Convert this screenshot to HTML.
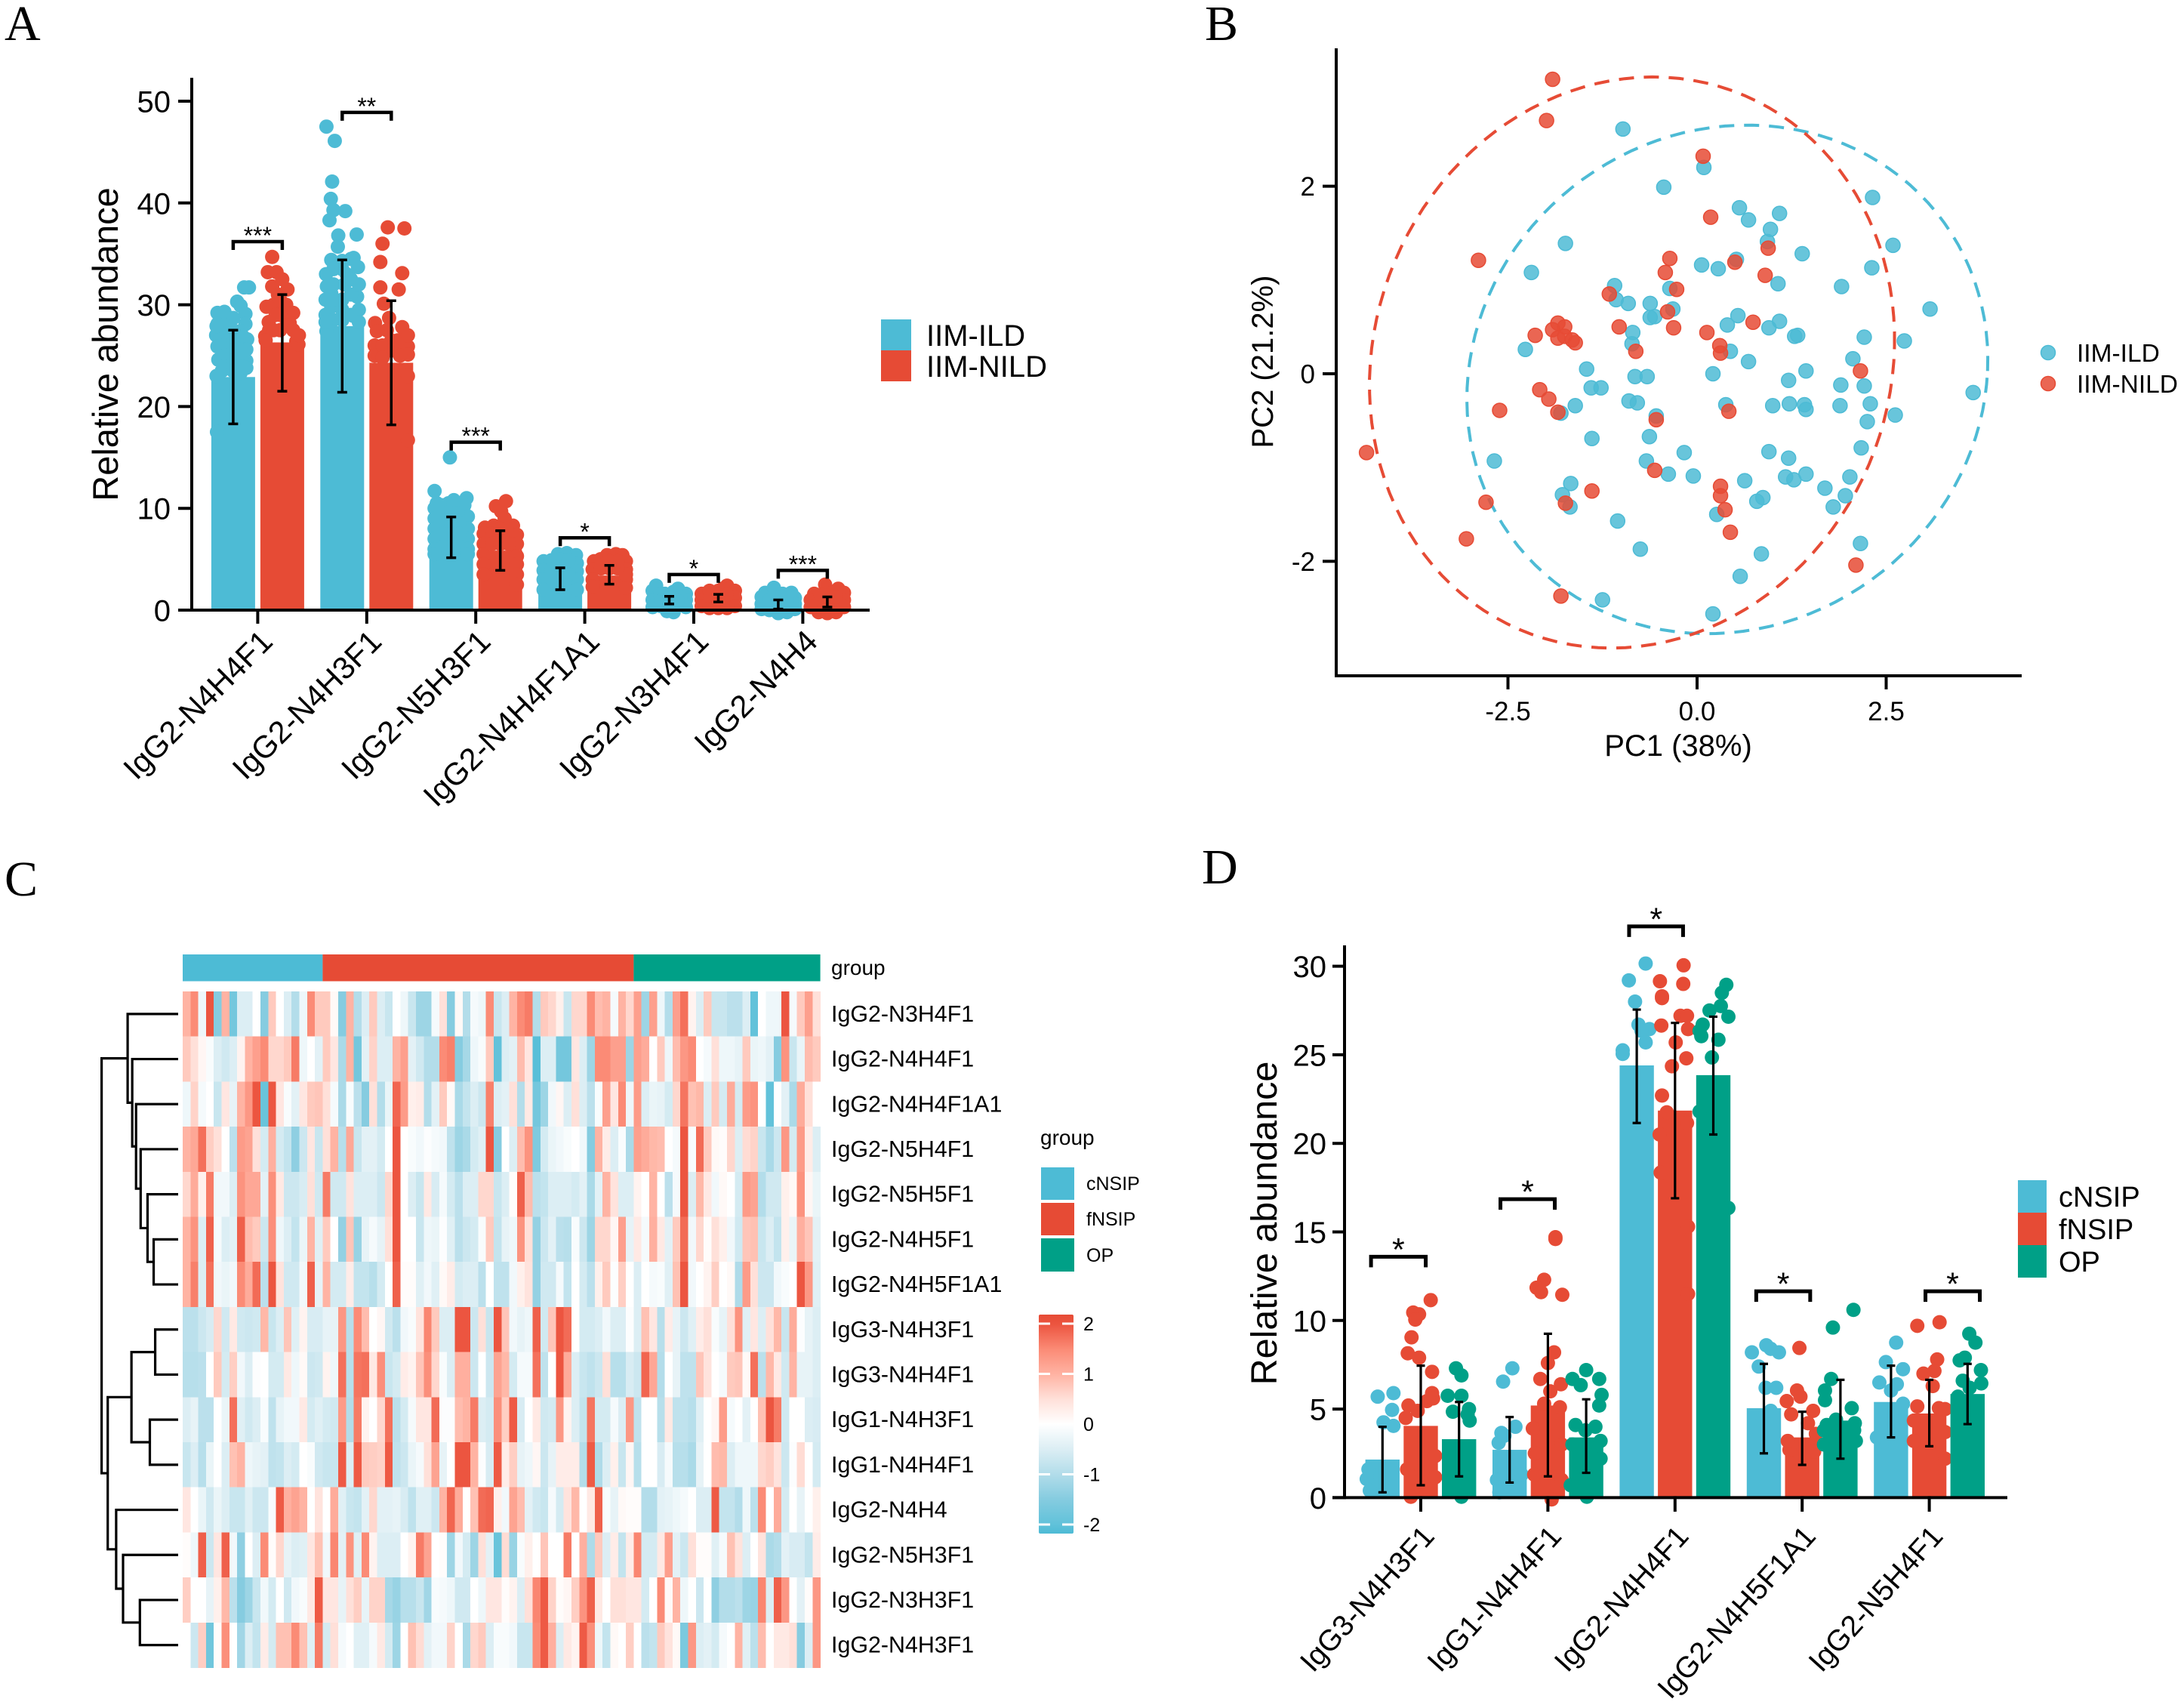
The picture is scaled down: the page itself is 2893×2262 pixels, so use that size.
<!DOCTYPE html>
<html lang="en">
<head>
<meta charset="utf-8">
<title>IgG glycan abundance figure</title>
<style>
html,body{margin:0;padding:0;background:#fff;}
svg{display:block;font-family:"Liberation Sans",sans-serif;}
</style>
</head>
<body>
<svg id="fig" xmlns="http://www.w3.org/2000/svg" width="2893" height="2262" viewBox="0 0 2893 2262">
  <rect x="0" y="0" width="2893" height="2262" fill="#fff"/>
  <text x="6" y="53" font-family="Liberation Serif" font-size="66">A</text>
  <text x="1596" y="53" font-family="Liberation Serif" font-size="66">B</text>
  <text x="6" y="1186" font-family="Liberation Serif" font-size="66">C</text>
  <text x="1592" y="1170" font-family="Liberation Serif" font-size="66">D</text>

  <g id="panelA"></g>
  <g>
    <rect x="1167" y="423" width="40" height="41" fill="#4DBBD5"/>
    <rect x="1167" y="464" width="40" height="41" fill="#E64B35"/>
    <text x="1227" y="458" font-size="40">IIM-ILD</text>
    <text x="1227" y="499" font-size="40">IIM-NILD</text>
  </g>

  <g id="panelB"></g>
  <g>
    <circle cx="2713" cy="467" r="9.5" fill="#4DBBD5" fill-opacity="0.85" stroke="#4DBBD5" stroke-width="1.5"/>
    <circle cx="2713" cy="508" r="9.5" fill="#E64B35" fill-opacity="0.85" stroke="#E64B35" stroke-width="1.5"/>
    <text x="2751" y="479" font-size="33.5">IIM-ILD</text>
    <text x="2751" y="520" font-size="33.5">IIM-NILD</text>
  </g>

  <g id="panelC"></g>
  <g>
    <text x="1378" y="1516" font-size="28">group</text>
    <rect x="1379" y="1546" width="44" height="43" fill="#4DBBD5"/>
    <rect x="1379" y="1593" width="44" height="43" fill="#E64B35"/>
    <rect x="1379" y="1640" width="44" height="44" fill="#00A087"/>
    <text x="1439" y="1576" font-size="25">cNSIP</text>
    <text x="1439" y="1623" font-size="25">fNSIP</text>
    <text x="1439" y="1671" font-size="25">OP</text>
  </g>

  <g id="panelD"></g>
  <g>
    <rect x="2673" y="1563" width="38" height="43" fill="#4DBBD5"/>
    <rect x="2673" y="1606" width="38" height="43" fill="#E64B35"/>
    <rect x="2673" y="1649" width="38" height="43" fill="#00A087"/>
    <text x="2727" y="1598" font-size="38">cNSIP</text>
    <text x="2727" y="1641" font-size="38">fNSIP</text>
    <text x="2727" y="1684" font-size="38">OP</text>
  </g>
</svg>
<script>
const BLUE = '#4DBBD5', RED = '#E64B35', GREEN = '#00A087';

/* ---------- Panel A data ---------- */
const aCategories = ['IgG2-N4H4F1','IgG2-N4H3F1','IgG2-N5H3F1','IgG2-N4H4F1A1','IgG2-N3H4F1','IgG2-N4H4'];
const aTicks = [0,10,20,30,40,50];
const aMeansILD = [22.9,27.9,7.15,3.1,0.95,0.6];
const aMeansNILD = [26.3,24.3,5.85,3.4,1.15,0.85];
const aErrLowILD = [18.3,21.4,5.15,2.0,0.6,0.1];
const aErrHighILD = [27.5,34.4,9.15,4.15,1.35,1.0];
const aErrLowNILD = [21.5,18.2,3.9,2.55,0.8,0.3];
const aErrHighNILD = [31.0,30.4,7.8,4.4,1.55,1.3];
const aBracketLevels = [36.2,48.9,16.5,7.1,3.5,3.9];
const aStars = ['***','**','***','*','*','***'];
/* each point: [jitter in bar widths, abundance] */
const aPointsILD = [
 [[.25,31.7],[.36,31.7],[.09,30.3],[.17,29.9],[-.36,29.2],[-.2,29.3],[.28,29.1],[-.36,28.1],[0,28.7],[.28,28.1],[-.39,27],[.17,27.4],[.32,26.6],[-.36,25.9],[.17,26],[-.34,24.6],[.09,25.1],[-.26,23.5],[.17,23.3],[-.37,17.5],[-.1,27.8],[.3,24.5],[-.2,28],[-.2,27],[-.2,26],[-.2,25],[-.2,24],[0,27.5],[0,26.5],[0,25.5],[0,24.5],[0,23.5],[.2,27],[.2,25],[.2,24],[.3,25.6],[.3,23.8],[-.38,23],[-.38,27.9]],
 [[-.36,47.5],[-.17,46.1],[-.23,42.1],[-.26,40.4],[.07,39.2],[-.2,39.3],[-.29,38.3],[-.09,36.8],[.33,36.9],[-.1,35.7],[.26,34.6],[-.25,34.4],[.36,33.7],[-.37,33],[.1,33],[-.35,31.8],[.34,30.8],[-.25,31.1],[-.25,29.8],[.26,28.9],[-.36,27.4],[0,29.5],[.05,32],[-.38,29],[-.38,30.5],[-.2,28.5],[-.2,30.5],[-.2,32],[-.2,33.5],[0,28.5],[0,30.5],[0,33.5],[.2,29],[.2,31],[.2,32.5],[.38,29.5],[.38,32],[-.38,28.3],[.38,28.3],[.2,34.5],[0,34.3]],
 [[-.03,15],[-.38,11.7],[.35,11],[-.06,10.5],[-.33,10.5],[.06,10.8],[.3,9.2],[-.38,10],[-.2,10.3],[.05,10.4],[.3,10.3],[.38,9.2],[-.38,9],[-.15,9.2],[.15,9.5],[-.38,8],[-.1,8],[.38,8],[-.38,7],[.38,7],[-.38,6],[.38,6],[-.38,5.5],[.38,5.5],[-.19,9.5],[0,9.5],[.19,8.5],[-.19,8.5],[0,8.5],[-.19,7.5],[0,7.5],[.19,7.5]],
 [[-.38,4.8],[-.2,4.9],[-.05,5.5],[.15,5.6],[.36,5.4],[.38,4.6],[-.38,3.9],[.38,3.8],[-.38,3],[.38,3],[-.38,2],[.38,2],[0,5],[-.19,4],[0,4],[.19,4],[.19,4.9],[-.19,3.5],[0,3.5],[.19,3.5]],
 [[-.38,1.9],[-.3,2.4],[-.1,1.6],[.1,1.8],[.2,2.1],[.38,1.6],[-.38,1],[.38,1],[-.38,.3],[.38,.3],[0,.1],[.1,-.2],[-.2,.4],[-.05,-.1],[-.2,1.5],[.25,1.2],[0,1.3],[.19,.9],[-.19,.9]],
 [[-.38,1.3],[-.3,1.7],[-.1,2.2],[.1,1.6],[.3,1.7],[.38,1.2],[-.38,.6],[.38,.6],[-.38,.1],[.38,.1],[0,-.3],[-.2,0],[.2,-.2],[-.2,1],[.1,.9],[0,1.2],[.19,1.1]]
];
const aPointsNILD = [
 [[-.23,34.7],[-.33,33.2],[-.13,33.2],[-.23,31.8],[.12,31.5],[-.36,29.8],[.09,30],[.25,29.2],[-.31,28.3],[.17,28.2],[-.39,26.9],[.32,26.4],[-.2,30],[.37,26.1],[-.05,29],[-.3,27.5],[-.2,27.5],[-.05,27.5],[.1,28],[.25,27.5],[.38,27],[-.38,26.5],[-.1,31],[0,32.5],[-.05,30.5],[-.15,29]],
 [[-.08,37.6],[.3,37.5],[-.2,36],[-.25,34.2],[.25,33.1],[-.25,31.7],[.17,31.5],[-.17,30.1],[-.05,28.7],[-.37,28.2],[.25,27.8],[-.33,27.4],[.38,25.9],[-.3,25.3],[.27,26.1],[.38,25.1],[.38,16.7],[-.38,26],[0,26.5],[.38,23],[-.38,25],[-.2,26],[0,25.5],[.2,25],[-.1,27.5],[.15,26.5],[.38,27],[-.2,24.8]],
 [[-.1,10.2],[.13,10.7],[.02,9.7],[.29,8.3],[-.35,8.1],[-.15,8.3],[.1,9],[.17,7],[.33,6],[-.38,7.5],[-.38,6.5],[-.38,5.5],[.38,7.4],[.38,6.5],[.38,5.3],[-.38,4.5],[.38,4.5],[-.38,3.5],[.38,3.5],[.38,2.5],[-.19,7.5],[0,8],[.15,8],[-.19,6.5],[0,6.5],[.19,6.5],[0,7.3]],
 [[-.2,5],[-.05,5.4],[.15,5.5],[.3,5.4],[.38,4.8],[-.35,4.8],[-.38,4],[.38,4],[-.38,3],[.38,3],[-.38,2.3],[.38,2.2],[0,5.3],[.38,3.5],[-.19,4.1],[0,4.1],[.19,4.1],[0,4.8],[.19,4.8]],
 [[-.38,1.6],[-.2,1.9],[0,1.9],[.2,2.4],[.38,1.9],[.38,1.2],[-.38,1],[-.38,.4],[.38,.4],[0,.2],[.2,.2],[-.2,.2],[.1,2.1],[0,1.5],[.19,1.5],[-.19,1.4]],
 [[-.05,2.5],[-.3,1.6],[.1,1.7],[.25,2.1],[.38,1.7],[-.38,1],[.38,1],[-.38,.3],[.38,.3],[0,-.3],[.2,-.2],[-.2,-.2],[.2,1.3],[-.15,1],[0,1.4],[-.15,1.5]]
];

/* ---------- Panel B data ---------- */
const bTicksX = [-2.5,0,2.5];
const bTicksY = [-2,0,2];
const bPointsILD = [[-.98,2.61],[.09,2.2],[-.44,1.99],[2.32,1.88],[.56,1.77],[1.09,1.71],[.68,1.64],[.97,1.54],[.93,1.41],[-1.74,1.39],[1.39,1.28],[2.59,1.37],[.52,1.22],[.06,1.16],[.28,1.12],[2.31,1.13],[-2.19,1.08],[-1.09,.94],[1.07,.96],[1.91,.93],[-.36,.91],[-1.07,.79],[-.91,.75],[-.62,.75],[-.32,.69],[3.08,.69],[-.62,.6],[-.56,.61],[.54,.62],[1.09,.56],[.4,.52],[.95,.49],[-.85,.44],[1.29,.4],[1.33,.41],[2.21,.39],[2.74,.35],[-.86,.32],[-2.27,.26],[.44,.24],[2.06,.16],[.68,.13],[1.44,.03],[-1.46,.05],[.21,0],[-.82,-.03],[-.66,-.03],[1.21,-.07],[-1.27,-.15],[-1.4,-.15],[1.9,-.12],[2.21,-.13],[-.9,-.29],[-.79,-.31],[-1.61,-.34],[2.29,-.32],[1.22,-.32],[1.42,-.33],[.38,-.33],[1,-.34],[1.89,-.34],[1.44,-.38],[-1.8,-.42],[2.62,-.44],[-.54,-.45],[2.25,-.51],[-.63,-.67],[-1.39,-.69],[2.17,-.79],[-.17,-.84],[.95,-.83],[1.21,-.9],[-2.68,-.93],[-.67,-.93],[-.38,-1.07],[-.05,-1.09],[1.44,-1.07],[1.17,-1.1],[1.28,-1.13],[.63,-1.14],[2.02,-1.1],[-1.67,-1.17],[1.69,-1.22],[-1.78,-1.29],[1.96,-1.3],[.87,-1.32],[.79,-1.36],[-1.68,-1.42],[1.8,-1.42],[.26,-1.5],[-1.05,-1.57],[-.75,-1.87],[2.16,-1.81],[.85,-1.92],[.57,-2.16],[-1.25,-2.41],[.21,-2.56],[3.65,-.2]];
const bPointsNILD = [[-1.91,3.14],[-1.99,2.7],[.08,2.32],[.18,1.67],[.94,1.34],[-2.89,1.21],[-.36,1.23],[.5,1.19],[-.42,1.08],[.9,1.05],[-.27,.9],[-1.16,.85],[-.39,.66],[.74,.55],[-1.84,.54],[-1.75,.5],[-1.91,.47],[-2.14,.41],[-1.03,.5],[-.31,.49],[.13,.44],[-1.84,.38],[-1.75,.4],[-1.65,.36],[-1.61,.33],[.3,.3],[-.81,.24],[.31,.22],[2.16,.03],[-2.08,-.17],[-1.96,-.27],[-2.61,-.39],[-1.84,-.41],[.42,-.4],[-.54,-.49],[-4.37,-.84],[-.56,-1.03],[.31,-1.2],[.31,-1.3],[-1.39,-1.25],[-2.79,-1.37],[-1.74,-1.38],[.37,-1.45],[.44,-1.69],[-3.05,-1.76],[2.1,-2.04],[-1.8,-2.37]];
/* ellipse: centre x, centre y, radius x, radius y, skew of top in x, skew of right in y */
const bEllipseILD = [.4,-.06,3.44,2.71,.15,.09];
const bEllipseNILD = [-.86,.12,3.47,3.04,.085,.17];

/* ---------- Panel C data ---------- */
const cRowLabels = ['IgG2-N3H4F1','IgG2-N4H4F1','IgG2-N4H4F1A1','IgG2-N5H4F1','IgG2-N5H5F1','IgG2-N4H5F1','IgG2-N4H5F1A1','IgG3-N4H3F1','IgG3-N4H4F1','IgG1-N4H3F1','IgG1-N4H4F1','IgG2-N4H4','IgG2-N5H3F1','IgG2-N3H3F1','IgG2-N4H3F1'];
const cGroupCounts = [18,40,24];
const cLegendTicks = [2,1,0,-1,-2];
/* heat values in half-z steps: 4 = z of 2 */
const cHeatRows = [
[2,3,-.5,4,-3,2,-3.5,-1,-1,0,-3,1.5,0,-1,-2,-.5,3,1.5,1.5,.2,-3,2,-2,-1,1.5,-1,-1.5,0,-.5,-1.5,-2.5,-2.5,-.3,1,-3,.2,-2,-.3,-.5,3,-1.5,-1,2,3,3.3,-2,1.5,1.2,.5,-1.5,1.2,1.2,3,1.8,2,-.3,2,1.2,2.5,-2.5,2.5,-.5,-2,2.5,3.5,.4,-1,1.5,-1.5,-1.5,-1.8,-1.8,-1,-4,0,-.5,-.5,4,-.3,1.5,2.5,1],
[1.5,1,.3,-.2,-1,-1.3,-1,.4,2,2.5,3,1.2,1.2,1.5,3.3,-.5,0,-.8,1.5,.8,-2.2,2,-3.5,-.8,1.3,-1,-1,2,2.5,-.8,-1.3,-2,-2,3,3.2,-3,-2.3,-.5,-.2,1.5,-4,-1,-.8,1.8,.8,-4.2,-1,-1,-3.5,-3.5,.8,-1,-2.5,3,3,2.5,2.5,-2.5,2.5,2.2,0,1.5,-.5,1.8,2.7,3,0,-.3,1,-.5,-.5,-.7,1.5,-.6,-.5,-.8,-3,2.8,-1.5,-.6,1.8,1.5],
[-.5,1.3,-.3,0,-1.5,.8,-.7,2,2.7,4,-3.8,4,.8,-.2,-.8,.8,1.5,1.6,1,-.3,-2.2,-.2,-1.8,-3,1,-2,-.6,3.7,2.6,.5,.6,-2,-.8,1.5,.2,-2.2,-1.6,-1,-1.4,3.2,-1,-.8,1,-2,.7,-3.5,-2.5,-.4,.3,-1,1,-1,-1.8,-.2,2.5,.8,3,-.5,2.6,-1,-.6,-.7,-1.2,1.2,3.4,1.7,1.9,-1,1.5,-1.2,2.2,-1.2,2.6,2.8,0,-4,0,-.8,-2.2,2.2,1,0],
[2,2.3,3.5,1.4,1,0,-1.8,2.6,2.4,1,-1.2,2.1,-1.2,-1.6,-2.8,-1.4,.8,-1.5,1,2,-1.9,2.3,-1.5,-.8,-.8,-1.2,0,4,0,-.2,-.4,-.1,-.3,-.4,-1.7,-2.5,-2.2,-1.2,-.9,4,-3,0,-1,1.8,2.8,-3.2,-1.2,-.6,-.4,-.2,0,-.4,-3,2,.6,-1,-.2,-2.2,2.5,2.2,1.9,1.8,0,-.3,4,-.2,3.6,1.5,.2,.1,1.2,-1,1.1,1.3,-1.5,-2.2,-1.4,2.7,-1.2,2.6,.6,-1],
[1.2,2.2,.5,3.3,-.4,-.4,-1,2.8,2.3,2.3,-.8,2.9,.7,-1.4,-1.4,-1.1,1,-1.3,3.3,-1.3,-1.3,.9,-1,-1,-1,-1.4,1.2,4,0,-1,-1.5,.7,-1.1,-.3,-1.2,-1.8,-1,-1,1.2,1.2,-1.5,-1,.1,3.8,1.8,-1.8,-1.6,-1,-1,-1,-1.2,-.8,-2.2,-.8,2,.9,-1,-1,.4,0,2,0,-1.8,-.3,4,-1,1.9,.7,-.4,.2,0,-1.2,2.6,2.4,-2,-1.3,-1.3,.5,.2,2.8,.3,-.6],
[2,2.8,-1,3.8,-.3,-1,-.8,3.8,1.8,1.5,-1.4,2.9,-.5,-1,-1.6,-.6,2,-.9,1.5,0,-2.7,1.6,-2.6,-.7,-.3,-.7,1,4,0,0,-1.5,-.5,-.6,-.1,-.9,-1.8,-1.4,-1.2,-.2,1.5,-1.6,-.7,-.5,2.8,1,-2.7,-1.4,-.8,-1.8,-1.9,-.2,-1.4,-2.5,1.2,1.2,.3,2.5,-.7,.7,-.3,2.1,.7,-.8,1.5,3.6,-.4,1.2,.1,1,.5,-.4,-1.3,1.6,1.7,-1.5,-1,-1.6,.5,-.6,2.1,1.6,-.8],
[2,3.2,-1,3.5,-.4,-.6,-.4,3,2.2,3.6,-1.8,4,.9,-1.3,-1.3,-.4,3.8,-.7,2,-1.2,-1.2,.6,-1.6,-1.6,-1.9,-1.2,0,3.8,.1,.1,-.9,-.4,-.9,.2,.6,-1.2,-1,-1,-1.8,0,-1.7,-1.7,-.4,.5,.9,-2.7,-1.3,-1.3,-.3,-1.6,0,-1.2,-1.8,.5,1.5,-.1,1.4,0,-1,0,-.3,-.2,-.9,1.7,4,-.4,0,.4,1.4,0,.2,-2.1,2.6,1,-1.4,-1.4,-.4,-.2,0,4,2.7,-.9],
[-1.8,-1.8,-1.4,-1.1,1.2,-1.3,.7,-1.3,-1.4,-1.3,1.9,-1.5,-1,1.6,-.9,.4,-1.1,-1.1,-.7,-.7,2.7,-1.9,3,1.8,0,.3,-1.3,-1.8,-.4,-.2,.9,3.1,1.5,-1,-1,4,4,-1.4,1,-1.5,4,1.6,-.4,-.7,-.5,3.8,-1.3,1.6,4,3.6,0,-1.2,-1.2,-1,-.4,-1,-1,-.1,-1,1.7,.8,-1.9,.6,-.7,-1.4,-.9,.6,1,-.2,-.7,1,2.8,-.9,.8,-1,1,1.9,-1.5,2.2,-.1,-.7,-1],
[-1.9,-1.9,-1.8,0,1.5,-1.2,1.4,-.4,-1,-.1,0,-1.2,-1.2,.7,-.5,.2,-1.4,-1.3,.4,-.5,3.5,-1.9,3.4,3.5,.7,2.9,-1.5,-1.2,.6,.4,1.6,2.9,1.2,-.2,-1,2.1,2.1,-1.4,0,-1.4,2.4,1.9,-1.2,-.3,-.3,3.5,-1.7,0,4,2.2,-1,-1.5,-1.7,-1.4,1,-1.9,-1.9,-1.1,-1.4,3.7,2.3,-2,0,-.7,-1.7,-1.7,1.6,.9,0,-.3,1.5,1.6,.2,3.5,-1.8,1.9,.7,-1.3,2,-.7,-.7,-1],
[-1,-.7,-1.8,-1.8,0,-.6,3.5,-.9,-1.3,-1,-.2,-1.7,-.7,-.4,-.4,.7,-1.2,-.9,-1.2,-1.3,2.6,-2,3.3,.4,0,1.2,3.5,-1.8,-1.2,-.3,.8,.8,3.6,-.1,-.1,1.8,2,3.3,-1,-1.2,2.9,1.4,3.9,-1.1,0,.7,-1.3,-1.2,2.7,.4,-1,-1.6,3.4,-1.2,-1.2,-.3,-1,2.7,-1.7,0,0,-1.9,.7,-1.7,-1.7,-1.9,-.9,0,.3,2.6,-.3,0,-.8,0,1.7,4,3.3,-1.3,0,0,-1,-1.1],
[-1.5,-1,-1.9,-.6,0,-1,1.7,2,-.5,-.7,-.8,-1.7,-1.6,-1,-1.2,0,-.2,-1.3,-1.5,-1.5,3.9,-1,3.9,1.5,1.4,1.3,3.9,-1.7,-1.4,-.6,-.3,1,2.4,-.7,0,4,4,2,-.1,-1.1,3.9,.6,1.4,-.7,-.5,.3,-1.4,-.7,.6,.6,.6,-2,3.9,-2.1,-1,.5,-1.5,.3,-1.9,0,0,-1.1,-.3,-1.9,-1.9,-2.2,-.7,0,1.8,1.9,-1,-.5,-.5,-.5,1.2,1.4,.9,-1.4,-.1,1.1,0,-1.2],
[.8,0,-.6,-1.3,-.6,-1,-1.5,-1.5,-.9,-1.4,-1.4,-.2,3.9,2.1,2.4,2,0,.9,0,2.2,-.9,-1.5,-1.6,-.8,1.2,-.8,-.8,-.7,-1.1,-1.7,-.9,-.9,-1.4,2,3.7,2.2,0,1.7,3.6,3.7,.5,-.4,2.4,1.8,-.8,-1.3,-1.5,-.3,-1.2,.9,1.9,0,.7,3.8,-.2,-.7,.2,.1,.1,-2,-2,-.8,-.7,-.5,-.3,0,-1,-1,3.9,-1.6,-1.6,-2,-.5,-1.8,3,0,2.2,-1.2,0,-.7,0,.5],
[.1,-.5,3.8,-1.4,.8,3.8,-.4,-2.8,0,-1,3,.1,1.2,-.7,-1,-.9,.8,1.7,-.4,3.1,-.8,2.8,-.9,3,.4,-1,-1,-1,0,.4,3.3,2.4,0,.1,-2.5,-.4,-1.2,-2.5,1,-.8,-3.8,1.1,-2.6,-.2,.5,0,1.6,0,0,3.3,0,2.1,-2.1,1.5,-1,.6,-1.6,.6,3.1,-1.2,-1.2,.7,2.5,-.8,-1.4,1,.1,.1,-.9,-.3,1.7,.9,-1,0,.9,-2.2,-2,-.8,-1.1,-1.1,-1.6,.6],
[1.4,0,0,-.7,.5,1.9,-1.8,-3,-2.5,-1.5,-.4,-1.2,0,-1.3,-.4,-.2,.7,3.9,.8,.8,-.7,1,1.4,-.7,1.3,1.3,-2.3,-2.6,-1.9,-1.9,-1.5,-2.4,-.2,-.3,-.5,-1.3,-1.3,0,-.5,.8,.8,.1,.4,-1,1,3.1,3.9,1.3,.1,.3,1.4,2.8,3.8,.7,0,1,1,.8,.8,-1.2,0,3,.2,2,-.5,0,-1.4,0,-2.8,-2,-2,-1.8,-2.5,-2.6,3.1,-1,3.8,2.7,0,-.8,.1,2.7],
[0,-1.4,1.4,-3.6,.1,2.9,0,-2.4,-1,-1.6,.6,-1.2,1.7,1.7,3,1.7,-.9,3.3,-1.2,1,-.3,0,-.9,-.9,-.3,.7,-1.2,-2.5,0,1.7,1.1,-.8,-.4,-.4,1.3,0,-2.2,1.2,1.5,-1,-.2,-.2,-.4,-1.5,-1.5,3,3.9,2.1,-1,.7,.4,3.9,2.9,-.5,-1.6,.2,0,1.4,0,-1.8,-1.6,1.5,.9,.2,-3.3,2.7,-1,-.8,-1.2,-.3,0,2,-.9,-1.8,1.8,0,.7,.7,1,-3,-1,2.7]
];
/* dendrogram merge heights (1 = root), leaves are row indices */
const cDendrogram = {h:1,kids:[
 {h:.66,kids:[0,{h:.6,kids:[1,{h:.55,kids:[2,{h:.49,kids:[3,{h:.4,kids:[4,{h:.32,kids:[5,6]}]}]}]}]}]},
 {h:.92,kids:[
   {h:.61,kids:[{h:.3,kids:[7,8]},{h:.37,kids:[9,10]}]},
   {h:.81,kids:[11,{h:.72,kids:[12,{h:.5,kids:[13,14]}]}]}
 ]}
]};

/* ---------- Panel D data ---------- */
const dCategories = ['IgG3-N4H3F1','IgG1-N4H4F1','IgG2-N4H4F1','IgG2-N4H5F1A1','IgG2-N5H4F1'];
const dTicks = [0,5,10,15,20,25,30];
const dMeansC = [2.15,2.7,24.4,5.05,5.4];
const dMeansF = [4.05,5.2,21.85,3.4,4.75];
const dMeansO = [3.3,3.4,23.85,4.35,5.85];
const dErrLowC = [.3,.85,21.15,2.5,3.4];
const dErrHighC = [4,4.55,27.55,7.55,7.45];
const dErrLowF = [.7,1.2,16.9,1.85,2.9];
const dErrHighF = [7.45,9.25,26.8,4.85,6.65];
const dErrLowO = [1.2,1.4,20.5,2.2,4.15];
const dErrHighO = [5.4,5.55,27.15,6.65,7.55];
const dBracketLevels = [13.6,16.85,32.25,11.65,11.65];
const dBracketSpans = [[-1.3,.13],[-1.24,.18],[-1.2,.21],[-1.2,.21],[-.1,1.32]];
const dPointsC = [
 [[-.14,5.7],[.32,5.9],[.28,4.95],[.03,4.25],[.32,4.05],[-.41,1.6],[-.46,1.05],[-.37,.4],[.17,.35]],
 [[.08,7.3],[-.19,6.55],[.17,4],[-.24,3.65],[-.32,3.1],[-.37,1],[.26,.5],[.35,1.3],[-.15,3.5],[-.3,.3]],
 [[.26,30.15],[-.23,29.2],[-.05,28],[.05,26.7],[.37,26.45],[.14,26.35],[.26,25.7],[-.41,25.25],[-.41,25.05]],
 [[.07,8.6],[-.35,8.2],[.2,8.4],[.44,8.2],[-.15,7.4],[.05,6.2],[.36,6.2],[.2,4.9]],
 [[.15,8.75],[-.15,7.65],[.35,7.25],[-.34,6.5],[.17,6.4],[0,6.05],[.35,5.3],[-.41,3.4]]
];
const dPointsF = [
 [[.29,11.15],[-.22,10.45],[-.05,10.35],[-.16,10.05],[-.27,9.05],[-.38,8.15],[-.05,7.9],[.33,7.1],[-.36,5.2],[-.44,4.5],[-.09,4.9],[.18,5.45],[.33,5.9],[.36,5.6],[-.29,.05],[.42,2.35],[.42,1.15],[-.4,1.6]],
 [[.22,14.7],[.22,14.6],[-.11,12.3],[-.33,11.85],[-.2,11.6],[.42,11.45],[.18,8.2],[0,7.6],[-.22,6.7],[.38,6.4],[.07,6],[-.11,5.3],[.35,5.1],[-.44,3.9],[-.38,2.5],[.11,-.1],[.4,3],[-.4,1.3],[.4,1]],
 [[.25,30.05],[-.44,29.15],[.24,29],[-.38,28.3],[-.38,28.2],[.16,27.2],[.35,27.2],[-.4,26.65],[.38,26.45],[.02,25.7],[.33,24.8],[-.09,24.35],[-.38,22.7],[-.24,21.75],[.35,21.15],[-.45,20.5],[-.42,18.35],[.38,15.3],[.38,11.5]],
 [[-.08,8.45],[-.15,6.05],[-.05,5.7],[-.45,5.45],[.32,4.9],[-.32,4.7],[.17,4.2],[-.37,2.7],[.35,2.6],[-.42,3.2],[.4,3.6]],
 [[.3,9.9],[-.35,9.7],[.23,7.8],[-.17,7],[.15,7.15],[.1,6.3],[-.35,5.15],[.28,5.05],[-.45,4.35],[.46,2.2],[.46,3.7],[-.45,3.2],[.46,5]]
];
const dPointsO = [
 [[-.09,7.3],[.07,6.9],[-.33,5.75],[.07,5.75],[-.18,4.85],[.29,5],[.31,4.35],[.25,4.7],[.07,.05]],
 [[0,7.2],[-.4,6.7],[-.16,6.35],[.38,6.7],[.45,5.8],[.38,5.2],[-.31,4.1],[.27,4],[-.02,3.8],[-.45,.7],[.02,.05],[.42,2.2],[-.4,3],[.42,3.2]],
 [[.38,28.95],[.25,28.5],[.22,27.75],[-.11,27.5],[.44,27.15],[-.31,26.7],[-.4,26.35],[.15,25.85],[-.35,26.05],[-.04,24.85],[-.4,21.8],[.44,16.35]],
 [[.38,10.6],[-.22,9.6],[-.27,6.7],[-.45,6.05],[-.45,5.5],[.33,5.05],[-.4,4.1],[.42,4.2],[-.13,4.4],[-.48,3],[.45,3.2],[.4,3.8],[-.48,3.8]],
 [[.05,9.25],[.23,8.75],[-.08,7.9],[-.23,7.75],[.39,7.2],[-.14,6.6],[.4,6.45],[.06,6.2],[-.28,5.7]]
];

/* ---------- helpers ---------- */
const NS = 'http://www.w3.org/2000/svg';
function make(parent, tag, attrs, text) {
  const el = document.createElementNS(NS, tag);
  for (const k in attrs) el.setAttribute(k, attrs[k]);
  if (text !== undefined) el.textContent = text;
  parent.appendChild(el);
  return el;
}
function axisLine(parent, name, x1, y1, x2, y2, w) {
  const el = make(parent, 'line', {x1, y1, x2, y2, stroke:'#000', 'stroke-width':w, 'stroke-linecap':'square'});
  
  
  return el;
}
function label(parent, name, x, y, str, size, anchor, rotate) {
  const attrs = {x, y, 'font-size':size, 'text-anchor':anchor, fill:'#000'};
  if (rotate) attrs.transform = 'rotate(' + rotate + ' ' + x + ' ' + y + ')';
  const el = make(parent, 'text', attrs, str);
  
  
  return el;
}
function drawBar(parent, name, cx, w, yTop, yBase, fill) {
  const el = make(parent, 'rect', {x:cx - w/2, y:yTop, width:w, height:yBase - yTop, fill});
  
  
}
function drawDot(parent, name, cx, cy, r, fill, extra) {
  const el = make(parent, 'circle', Object.assign({cx, cy, r, fill}, extra || {}));
  
  
}
function drawError(parent, name, cx, yLow, yHigh, cap, w) {
  const el = make(parent, 'path', {d:'M'+(cx-cap)+' '+yHigh+'H'+(cx+cap)+'M'+cx+' '+yHigh+'V'+yLow+'M'+(cx-cap)+' '+yLow+'H'+(cx+cap), stroke:'#000', 'stroke-width':w, fill:'none'});
  
  
}
function drawBracket(parent, name, x1, x2, y, drop, w) {
  const el = make(parent, 'path', {d:'M'+x1+' '+(y+drop)+'V'+y+'H'+x2+'V'+(y+drop), stroke:'#000', 'stroke-width':w, fill:'none'});
  
  
}

/* ---------- Panel A ---------- */
(function () {
  const g = document.getElementById('panelA');
  const xA = i => 341.4 + i * 144.4;
  const yA = v => 808 - v * 13.48;
  const off = 32.5, barW = 58;
  aCategories.forEach((c, i) => {
    drawBar(g, 'bar-iim-ild-' + c, xA(i) - off, barW, yA(aMeansILD[i]), yA(0), BLUE);
    drawBar(g, 'bar-iim-nild-' + c, xA(i) + off, barW, yA(aMeansNILD[i]), yA(0), RED);
    aPointsILD[i].forEach(p => drawDot(g, 'point-iim-ild', xA(i) - off + p[0]*barW, yA(p[1]), 9.5, BLUE));
    aPointsNILD[i].forEach(p => drawDot(g, 'point-iim-nild', xA(i) + off + p[0]*barW, yA(p[1]), 9.5, RED));
    drawError(g, 'error-bar-iim-ild', xA(i) - off, yA(aErrLowILD[i]), yA(aErrHighILD[i]), 6.5, 3.5);
    drawError(g, 'error-bar-iim-nild', xA(i) + off, yA(aErrLowNILD[i]), yA(aErrHighNILD[i]), 6.5, 3.5);
    const by = yA(aBracketLevels[i]);
    drawBracket(g, 'significance-bracket', xA(i) - off, xA(i) + off, by, 11, 4.5);
    label(g, 'significance-stars', xA(i), by + 3, aStars[i], 32, 'middle');
    axisLine(g, 'x-tick', xA(i), 808, xA(i), 824, 4);
    label(g, 'x-tick-label', xA(i) + 22, 852, c, 41.5, 'end', -45);
  });
  aTicks.forEach(t => {
    axisLine(g, 'y-tick', 238, yA(t), 254, yA(t), 4);
    label(g, 'y-tick-label', 226, yA(t) + 14.5, String(t), 40, 'end');
  });
  axisLine(g, 'y-axis-line', 254, 105, 254, 808, 4);
  axisLine(g, 'x-axis-line', 238, 808, 1150, 808, 4);
  label(g, 'y-axis-title', 156, 456, 'Relative abundance', 47, 'middle', -90);
})();

/* ---------- Panel B ---------- */
(function () {
  const g = document.getElementById('panelB');
  const xB = v => 2248 + v * 100.2;
  const yB = v => 495 - v * 124.2;
  function ellipse(e, color, name) {
    let d = '';
    for (let k = 0; k <= 120; k++) {
      const t = k / 120 * 2 * Math.PI;
      const x = e[0] + e[2]*Math.cos(t) + e[4]*Math.sin(t);
      const y = e[1] + e[3]*Math.sin(t) + e[5]*Math.cos(t);
      d += (k ? 'L' : 'M') + xB(x).toFixed(1) + ' ' + yB(y).toFixed(1);
    }
    const el = make(g, 'path', {d, fill:'none', stroke:color, 'stroke-width':4, 'stroke-dasharray':'20 13'});
    
    
  }
  ellipse(bEllipseILD, BLUE, 'confidence-ellipse-iim-ild');
  ellipse(bEllipseNILD, RED, 'confidence-ellipse-iim-nild');
  const ringStyle = c => ({'fill-opacity':0.85, stroke:c, 'stroke-width':1.5});
  bPointsILD.forEach(p => drawDot(g, 'point-iim-ild', xB(p[0]), yB(p[1]), 9.5, BLUE, ringStyle(BLUE)));
  bPointsNILD.forEach(p => drawDot(g, 'point-iim-nild', xB(p[0]), yB(p[1]), 9.5, RED, ringStyle(RED)));
  bTicksX.forEach(t => {
    axisLine(g, 'x-tick', xB(t), 895, xB(t), 911, 4);
    label(g, 'x-tick-label', xB(t), 954, t.toFixed(1), 35, 'middle');
  });
  bTicksY.forEach(t => {
    axisLine(g, 'y-tick', 1754, yB(t), 1770, yB(t), 4);
    label(g, 'y-tick-label', 1742, yB(t) + 12.5, String(t), 35, 'end');
  });
  axisLine(g, 'y-axis-line', 1770, 66, 1770, 895, 4);
  axisLine(g, 'x-axis-line', 1770, 895, 2676, 895, 4);
  label(g, 'x-axis-title', 2223, 1001, 'PC1 (38%)', 40, 'middle');
  label(g, 'y-axis-title', 1686, 479, 'PC2 (21.2%)', 40, 'middle', -90);
})();

/* ---------- Panel C ---------- */
(function () {
  const g = document.getElementById('panelC');
  const left = 242, top = 1313, cellW = 10.3, cellH = 59.7;
  const xC = i => left + i * cellW;
  const yC = r => top + r * cellH;
  const stops = [[-4.4,[77,187,213]],[-4,[98,194,218]],[-3,[134,204,224]],[-2,[179,221,234]],[-1,[220,238,244]],[0,[255,255,255]],[1,[255,224,217]],[2,[255,179,163]],[3,[251,139,118]],[4,[236,85,64]],[4.4,[230,75,53]]];
  function heatColor(v) {
    v = Math.max(-4.4, Math.min(4.4, v));
    for (let i = 1; i < stops.length; i++) {
      if (v <= stops[i][0]) {
        const a = stops[i-1], b = stops[i], f = (v - a[0]) / (b[0] - a[0]);
        return 'rgb(' + a[1].map((c, k) => Math.round(c + (b[1][k] - c) * f)).join(',') + ')';
      }
    }
    return 'rgb(230,75,53)';
  }
  /* group annotation bar */
  const groupColors = [BLUE, RED, GREEN];
  const groupNames = ['annotation-cnsip','annotation-fnsip','annotation-op'];
  let start = 0;
  cGroupCounts.forEach((n, i) => {
    const el = make(g, 'rect', {x:xC(start), y:1264, width:n*cellW, height:35.5, fill:groupColors[i]});
    
    
    start += n;
  });
  label(g, 'annotation-group-label', 1101, 1291, 'group', 28, 'start');
  /* heat cells */
  cHeatRows.forEach((row, r) => {
    row.forEach((v, c) => {
      const el = make(g, 'rect', {x:xC(c), y:yC(r), width:cellW + .3, height:cellH + .3, fill:heatColor(v), 'shape-rendering':'crispEdges'});
      
      
    });
    label(g, 'row-label', 1101, yC(r) + cellH/2 + 10, cRowLabels[r], 30.4, 'start');
  });
  /* dendrogram */
  const tipX = 236, depth = 101.4;
  const xD = h => tipX - h * depth;
  const treeColor = '#000';
  function drawTree(node) {
    if (typeof node === 'number') return {x:tipX, y:yC(node) + cellH/2};
    const a = drawTree(node.kids[0]), b = drawTree(node.kids[1]);
    const x = xD(node.h);
    const el = make(g, 'path', {d:'M'+a.x+' '+a.y+'H'+x+'V'+b.y+'H'+b.x, fill:'none', stroke:treeColor, 'stroke-width':3.2});
    
    
    return {x, y:(a.y + b.y)/2};
  }
  drawTree(cDendrogram);
  /* colour bar */
  const yLeg = v => 1886 - v * 66.5;
  const defs = make(g, 'defs', {});
  const grad = make(defs, 'linearGradient', {id:'heatGrad', x1:0, y1:0, x2:0, y2:1});
  stops.slice().reverse().forEach(s => {
    const col = 'rgb(' + s[1].join(',') + ')';
    make(grad, 'stop', {offset:(4.4 - s[0]) / 8.8, 'stop-color':col});
  });
  const bar = make(g, 'rect', {x:1376, y:yLeg(2.18), width:46, height:yLeg(-2.18) - yLeg(2.18), fill:'url(#heatGrad)', rx:2});
  
  
  cLegendTicks.forEach(t => {
    const y = yLeg(t);
    if (t !== 0) {
      const a = make(g, 'path', {d:'M1376 '+y+'H1391M1407 '+y+'H1422', stroke:'#fff', 'stroke-width':3});
      
      
    }
    label(g, 'colorbar-tick-label', 1435, y + 9, String(t), 25, 'start');
  });
})();

/* ---------- Panel D ---------- */
(function () {
  const g = document.getElementById('panelD');
  const xK = i => 1882 + i * 168.4;
  const yK = v => 1983.4 - v * 23.46;
  const step = 50.7, barW = 45.4;
  const series = [
    {key:'cnsip', off:-1, color:BLUE, means:dMeansC, low:dErrLowC, high:dErrHighC, pts:dPointsC},
    {key:'fnsip', off:0, color:RED, means:dMeansF, low:dErrLowF, high:dErrHighF, pts:dPointsF},
    {key:'op', off:1, color:GREEN, means:dMeansO, low:dErrLowO, high:dErrHighO, pts:dPointsO}
  ];
  dCategories.forEach((c, i) => {
    series.forEach(s => {
      const cx = xK(i) + s.off * step;
      drawBar(g, 'bar-' + s.key + '-' + c, cx, barW, yK(s.means[i]), yK(0), s.color);
      s.pts[i].forEach(p => drawDot(g, 'point-' + s.key, cx + p[0]*barW, yK(p[1]), 9.5, s.color));
    });
    series.forEach(s => {
      drawError(g, 'error-bar-' + s.key, xK(i) + s.off * step, yK(s.low[i]), yK(s.high[i]), 5.5, 3.2);
    });
    const by = yK(dBracketLevels[i]);
    const x1 = xK(i) + dBracketSpans[i][0]*step, x2 = xK(i) + dBracketSpans[i][1]*step;
    drawBracket(g, 'significance-bracket', x1, x2, by, 14, 5);
    label(g, 'significance-star', (x1 + x2)/2, by + 5, '*', 43, 'middle');
    axisLine(g, 'x-tick', xK(i), 1983.4, xK(i), 2000, 4);
    label(g, 'x-tick-label', xK(i) + 20, 2036, c, 39, 'end', -48);
  });
  dTicks.forEach(t => {
    axisLine(g, 'y-tick', 1767, yK(t), 1781, yK(t), 4);
    label(g, 'y-tick-label', 1757, yK(t) + 14.5, String(t), 40, 'end');
  });
  axisLine(g, 'y-axis-line', 1781, 1254, 1781, 1983.4, 4);
  axisLine(g, 'x-axis-line', 1767, 1983.4, 2657, 1983.4, 4);
  label(g, 'y-axis-title', 1691, 1620, 'Relative abundance', 48.5, 'middle', -90);
})();
</script>
</body>
</html>
